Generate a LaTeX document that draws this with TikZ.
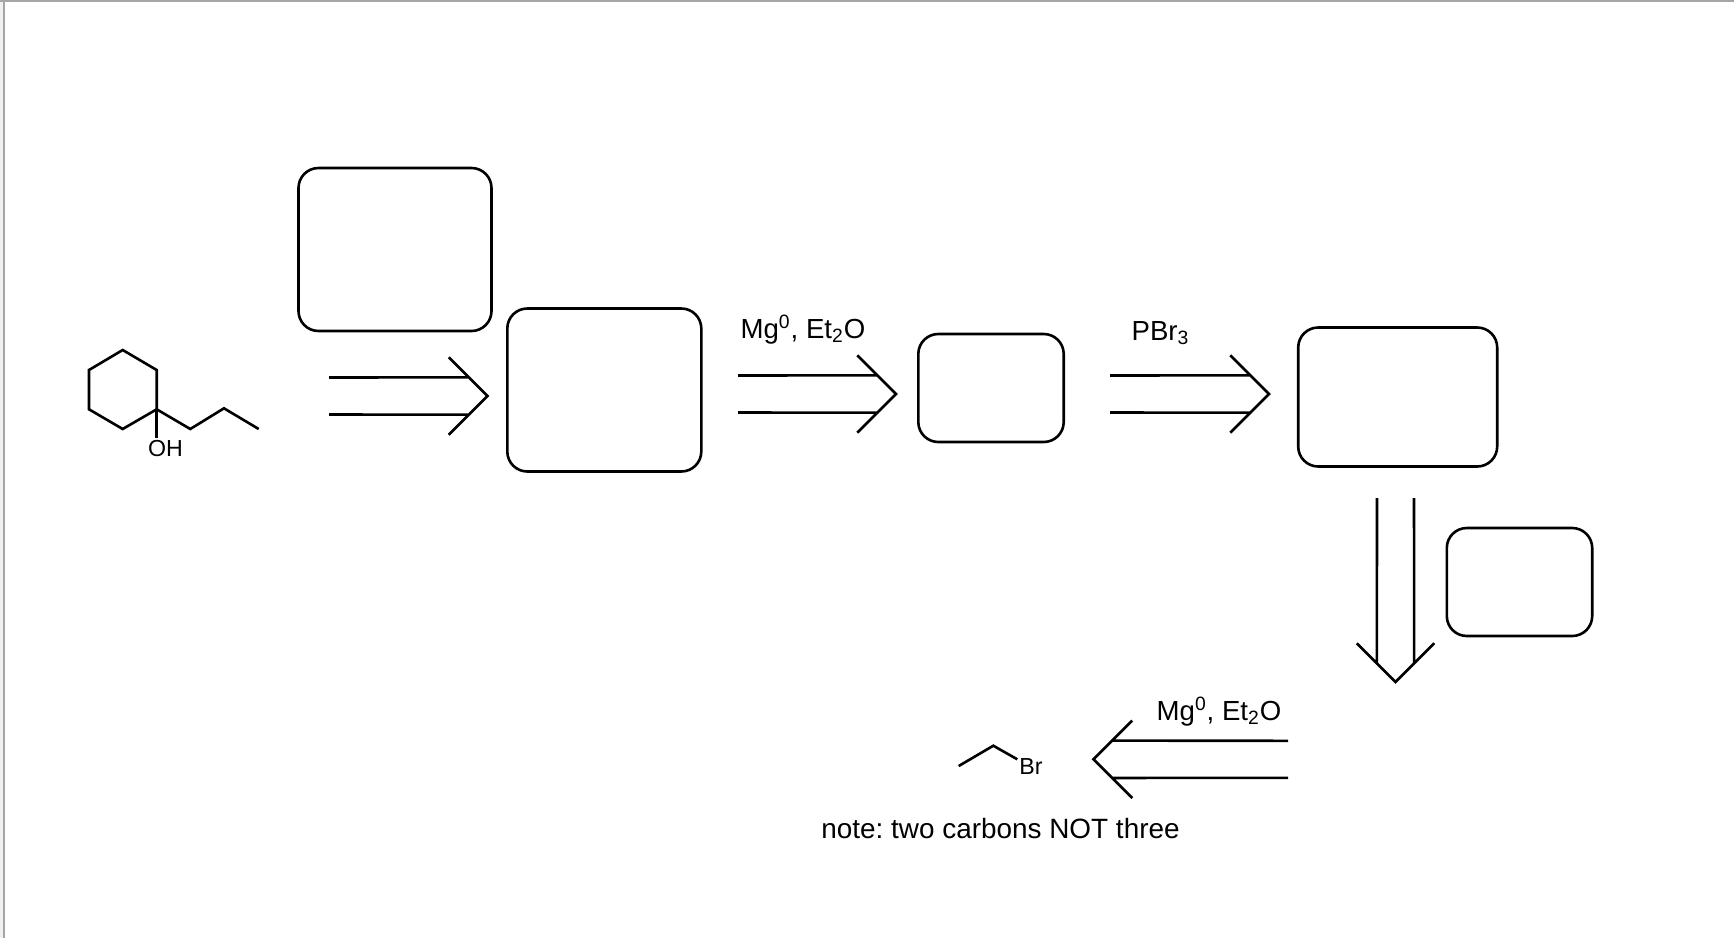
\documentclass[tikz,border=0pt]{standalone}
\usepackage{fontspec}
\setmainfont{Liberation Sans}
\usetikzlibrary{calc}
\usetikzlibrary{positioning}
\tikzset{
  bond/.style = {line width = 1.3pt, line join = miter},
  answerbox/.style = {draw, line width = 1.3pt, rounded corners = 10pt, inner sep = 0pt},
  reagent/.style = {inner sep = 0pt, font = \fontsize{13.8}{16}\selectfont},
  atom/.style = {inner sep = 0pt, font = \fontsize{11.6}{13}\selectfont}
}
% double shaft with an open head, from #1 to #2
\newcommand{\tikzRetroArrow}[2]{\draw[bond]
  ($(#1)!9.25pt!90:(#2)$) -- ($(#2)!13.2pt!-45:(#1)$)
  ($(#1)!9.25pt!-90:(#2)$) -- ($(#2)!13.2pt!45:(#1)$)
  ($(#2)!27.4pt!45:(#1)$) -- (#2) -- ($(#2)!27.4pt!-45:(#1)$)}

\begin{document}
\frenchspacing
\begin{tikzpicture}[x = 0.5pt, y = -0.5pt]
                \useasboundingbox (0,0) rectangle (1734,938);
                % window edge
                \fill [black!6] (0,0) rectangle (4,938);
                \draw [black!35, line width = 0.6pt] (4,2) -- (4,938);
                \draw [black!35, line width = 0.8pt] (0,1) -- (1734,1);
                % empty boxes
                \node [answerbox, minimum width = 96.5pt, minimum height = 81.5pt] (boxTop) at (395,249.5) {};
                \node [answerbox, minimum width = 97pt, minimum height = 81.5pt] (boxAldehyde) at (604.3,390) {};
                \node [answerbox, minimum width = 72.7pt, minimum height = 54pt] (boxGrignard) at (991,388) {};
                \node [answerbox, minimum width = 99.5pt, minimum height = 69.5pt] (boxBromide) at (1397.7,397) {};
                \node [answerbox, minimum width = 72.7pt, minimum height = 54pt] (boxSide) at (1519.5,582) {};
                % ends of the arrows
                \coordinate (tailA) at (329,396);
                \coordinate (tipA) at (487.5,396);
                \coordinate (tailB) at (738,394);
                \coordinate (tipB) at (896,394);
                \coordinate (tailC) at (1110,394);
                \coordinate (tipC) at (1269,394);
                \coordinate (tailD) at (1395.5,498);
                \coordinate (tipD) at (1395.5,682);
                \coordinate (tailE) at (1288,759.3);
                \coordinate (tipE) at (1093.5,759.3);
                \tikzRetroArrow{tailA}{tipA};
                \tikzRetroArrow{tailB}{tipB};
                \tikzRetroArrow{tailC}{tipC};
                \tikzRetroArrow{tailD}{tipD};
                \tikzRetroArrow{tailE}{tipE};
                % reagents
                \node [reagent] (labelMgTop) at (803,329.5) {Mg\textsuperscript{0}, Et\textsubscript{2}O};
                \node [reagent] (labelPBr) at (1160.5,333) {PBr\textsubscript{3}};
                \node [reagent] (labelMgLow) at (1219,711.5) {Mg\textsuperscript{0}, Et\textsubscript{2}O};
                \node [reagent, font = \fontsize{13.95}{16}\selectfont] (labelNote) at (1000.5,829) {note: two carbons NOT three};
                % cyclohexanol ring and propyl chain
                \node [atom] (atomOH) at (165.5,449) {OH};
                \coordinate (ringC) at (156.7,409.3);
                \draw [bond] (ringC) -- (156.7,370) -- (122.7,350) -- (89,370) -- (89,409.3) -- (122.7,429) -- cycle;
                \draw [bond] (ringC) -- (190.3,429) -- (224,408.3) -- (258.7,429);
                \draw [bond] (ringC) -- (156.7,438);
                % ethyl bromide
                \node [atom] (atomBr) at (1031,767) {Br};
                \draw [bond] (958.7,766) -- (993.3,745.7) -- (1017.3,759.3);
              \end{tikzpicture}
\end{document}
